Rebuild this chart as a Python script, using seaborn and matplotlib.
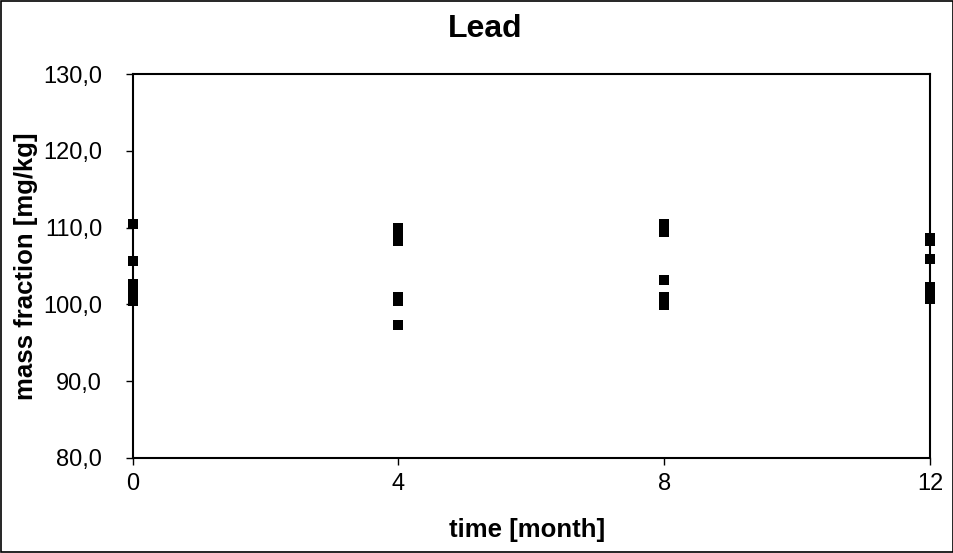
import pandas as pd
import matplotlib
matplotlib.use("Agg")
import matplotlib.pyplot as plt
import seaborn as sns
from matplotlib.ticker import FuncFormatter

# measured mass fractions, mg/kg
month_0 = [110.5, 105.6, 102.7, 101.9, 101.2, 100.5]
month_4 = [110.0, 109.5, 108.2, 100.9, 100.4, 97.3]
month_8 = [110.5, 109.4, 103.2, 101.0, 100.4, 99.9]
month_12 = [108.7, 108.3, 105.9, 102.2, 101.4, 100.7]
months = [0, 4, 8, 12]

sns.set_style("ticks")
plt.rcParams['font.family'] = ['Liberation Sans', 'DejaVu Sans']
plt.rcParams['text.color'] = 'black'
plt.rcParams['axes.labelcolor'] = 'black'

rows = []
for m, vals in zip(months, [month_0, month_4, month_8, month_12]):
    for v in vals:
        rows.append({'time': m, 'mass': v})
df = pd.DataFrame(rows)

fig = plt.figure(figsize=(9.54, 5.53), dpi=100)
ax = fig.add_axes([0.139, 0.172, 0.836, 0.694])
sns.scatterplot(data=df, x='time', y='mass', marker='s', color='black',
                s=62, edgecolor='black', linewidth=0, ax=ax, clip_on=False, zorder=5)

ax.set_xlim(0, 12)
ax.set_ylim(80, 130)
ax.set_xticks(months)
ax.set_yticks([80, 90, 100, 110, 120, 130])
ax.yaxis.set_major_formatter(FuncFormatter(lambda v, p: f"{v:.1f}".replace('.', ',')))
ax.tick_params(axis='both', direction='out', length=5, width=1, labelsize=17, colors='black')
ax.tick_params(axis='y', pad=17)
ax.tick_params(axis='x', pad=6)
for sp in ax.spines.values():
    sp.set_visible(True)
    sp.set_color('black')
    sp.set_linewidth(1.5)

fig.text(0.509, 1 - 29 / 553, 'Lead', fontsize=23, fontweight='bold', ha='center', va='center')
ax.set_xlabel('time [month]', fontsize=18.5, fontweight='bold', va='center')
ax.xaxis.set_label_coords(0.495, -0.1875)
ax.set_ylabel('mass fraction [mg/kg]', fontsize=18.5, fontweight='bold', va='center')
ax.yaxis.set_label_coords(-0.134, 0.5)

# outer frame around the whole figure
fig.patches.append(plt.Rectangle((0.001, 0.001), 0.998, 0.997, transform=fig.transFigure,
                                 fill=False, edgecolor='black', linewidth=1.2))

fig.savefig('out.png', dpi=100)
